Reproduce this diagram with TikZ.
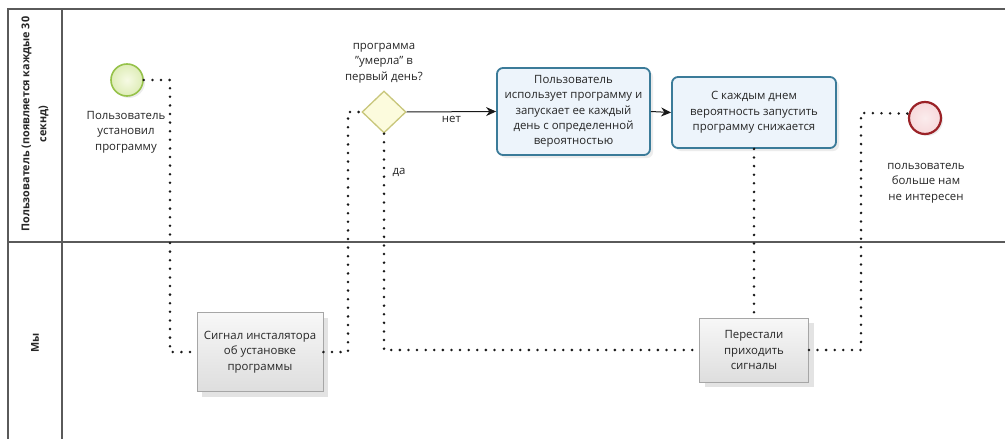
\documentclass[tikz,border=0pt]{standalone}
\usepackage{fontspec}
\setmainfont{Open Sans}
\usetikzlibrary{shapes.geometric,arrows.meta,shadows}
\definecolor{poolc}{HTML}{5A5A5A}
\definecolor{startb}{HTML}{96C24A}
\definecolor{startf}{HTML}{F0F7D2}
\definecolor{endb}{HTML}{9B2227}
\definecolor{endf}{HTML}{F7D9DB}
\definecolor{gwb}{HTML}{C8C67A}
\definecolor{gwf}{HTML}{FCFBDD}
\definecolor{taskb}{HTML}{3B7B99}
\definecolor{taskf}{HTML}{EDF4FB}
\definecolor{txt}{HTML}{262626}
\tikzset{
  pool/.style={draw=poolc, line width=1.4pt},
  lanelbl/.style={rotate=90, font=\fontsize{10.8}{17}\selectfont\bfseries, text=txt, align=center},
  lbl/.style={font=\fontsize{11.4}{15.3}\selectfont, text=txt, align=center},
  startev/.style={circle, draw=startb, line width=1.6pt, inner color=startf!60!white, outer color=startf!80!startb, minimum size=32pt, inner sep=0pt, drop shadow={shadow xshift=2pt, shadow yshift=-2pt, opacity=0.15}},
  endev/.style={circle, draw=endb, line width=2.2pt, inner color=endf!50!white, outer color=endf, minimum size=32pt, inner sep=0pt, drop shadow={shadow xshift=2pt, shadow yshift=-2pt, opacity=0.15}},
  gateway/.style={diamond, draw=gwb, line width=1.3pt, fill=gwf, minimum width=44pt, minimum height=42pt, inner sep=0pt},
  bluetask/.style={rectangle, rounded corners=6pt, draw=taskb, line width=1.8pt, fill=taskf, align=center, font=\fontsize{11.4}{15.3}\selectfont, text=txt, inner sep=0pt, drop shadow={shadow xshift=3pt, shadow yshift=-3pt, opacity=0.15}},
  graytask/.style={rectangle, draw=black!35, line width=0.8pt, top color=black!3, bottom color=black!13, align=center, font=\fontsize{11.4}{15.3}\selectfont, text=txt, inner sep=0pt, drop shadow={shadow xshift=5pt, shadow yshift=-5pt, opacity=0.22}},
  dotline/.style={line width=2.8pt, dash pattern=on 0pt off 8.6pt, line cap=round, black!90},
  flow/.style={line width=1pt, black!90, -{Stealth[length=10pt,width=9pt]}},
}
\begin{document}
\begin{tikzpicture}[x=1pt,y=-1pt]
\useasboundingbox (0,0) rectangle (1005,439);
\fill[white] (0,0) rectangle (1005,439);
% pool and lanes
\draw[pool] (8,439) -- (8,9) -- (1005,9);
\draw[pool] (62,9) -- (62,439);
\draw[pool] (8,242) -- (1005,242);
\node[lanelbl] (lane1) at (35,124) {Пользователь (появляется каждые 30\\секнд)};
\node[lanelbl] (lane2) at (35,343) {Мы};
% nodes
\node[startev] (start) at (127,80) {};
\node[lbl] (startlbl) at (126,132) {Пользователь\\установил\\программу};
\node[graytask, minimum width=126pt, minimum height=79pt] (sig) at (260,352) {Сигнал инсталятора\\об установке\\программы};
\node[gateway] (gw) at (384,112) {};
\node[lbl] (gwlbl) at (384,63) {программа\\\symbol{34}умерла\symbol{34} в\\первый день?};
\node[bluetask, minimum width=153pt, minimum height=87pt] (t1) at (573.5,111.5) {Пользователь\\использует программу и\\запускает ее каждый\\день с определенной\\вероятностью};
\node[bluetask, minimum width=164pt, minimum height=71pt] (t2) at (754,112.5) {С каждым днем\\вероятность запустить\\программу снижается};
\node[graytask, minimum width=109pt, minimum height=64pt] (stop) at (754,350) {Перестали\\приходить\\сигналы};
\node[endev] (end) at (925,118) {};
\node[lbl] (endlbl) at (926,183) {пользователь\\больше нам\\не интересен};
% coordinates
\coordinate (a1) at (170,80);
\coordinate (a2) at (170,352);
\coordinate (b1) at (348,352);
\coordinate (b2) at (348,112);
\coordinate (c1) at (384,350);
\coordinate (d1) at (861,350);
\coordinate (d2) at (861,113);
% connectors
\draw[dotline] (start.east) -- (a1) -- (a2) -- (sig.west);
\draw[dotline] (sig.east) -- (b1) -- (b2) -- (gw.west);
\draw[flow] (gw.east) -- node[lbl, below=1pt] (no) {нет} (t1.west);
\draw[flow] (t1.east) -- (t2.west);
\draw[dotline] (gw.south) -- (c1) -- (stop.west);
\node[lbl] (yes) at (399,172) {да};
\draw[dotline] (t2.south) -- (stop.north);
\draw[dotline] (stop.east) -- (d1) -- (d2) -- (end.165);
\end{tikzpicture}
\end{document}
